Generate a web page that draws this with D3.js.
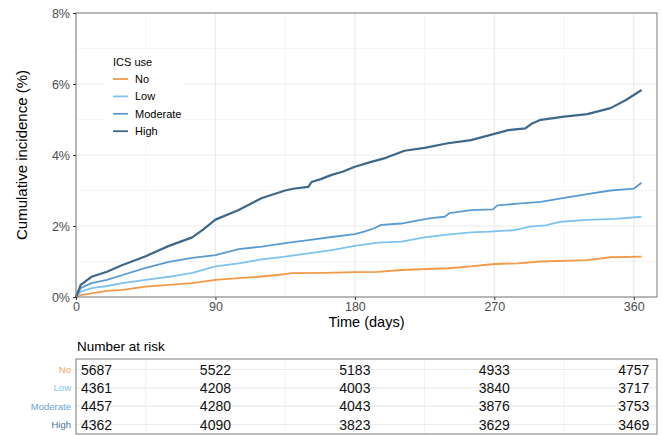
<!DOCTYPE html>
<html>
<head>
<meta charset="utf-8">
<script src="https://cdn.jsdelivr.net/npm/d3@7"></script>
<style>
  body { margin: 0; background: #fff; }
  svg { font-family: "Liberation Sans", Arial, Helvetica, sans-serif; }
</style>
</head>
<body>
<svg id="chart" width="662" height="435"></svg>
<script>
const groups = ["No", "Low", "Moderate", "High"]
const colors = ["#f39a48", "#7ec3ef", "#5b9bd0", "#3e6889"]
const rowColors = ["#f6a45c", "#86c5ee", "#68a3d2", "#4a7393"]

// readings: [day, cumulative incidence %]
const seriesNo = [[0,0],[3,0.05],[10,0.1],[20,0.17],[30,0.2],[45,0.29],[60,0.34],[75,0.39],[90,0.48],[105,0.53],[118,0.57],[130,0.62],[140,0.67],[160,0.68],[180,0.7],[195,0.71],[210,0.76],[240,0.81],[255,0.86],[270,0.93],[285,0.95],[300,1.0],[330,1.04],[345,1.12],[365,1.14]]
const seriesLow = [[0,0],[3,0.15],[10,0.25],[20,0.31],[30,0.39],[45,0.48],[60,0.57],[75,0.68],[90,0.86],[105,0.95],[120,1.06],[135,1.14],[150,1.23],[165,1.32],[180,1.44],[195,1.53],[210,1.56],[225,1.68],[238,1.75],[255,1.82],[267,1.84],[282,1.88],[293,1.98],[303,2.02],[313,2.12],[330,2.17],[348,2.2],[365,2.26]]
const seriesModerate = [[0,0],[3,0.25],[10,0.39],[20,0.48],[30,0.62],[45,0.82],[60,0.99],[75,1.1],[90,1.18],[105,1.35],[120,1.42],[135,1.52],[150,1.6],[165,1.69],[180,1.77],[186,1.84],[192,1.93],[197,2.03],[210,2.07],[220,2.15],[229,2.22],[238,2.26],[241,2.36],[255,2.45],[269,2.47],[272,2.58],[285,2.63],[300,2.68],[315,2.79],[330,2.9],[345,3.0],[360,3.05],[365,3.22]]
const seriesHigh = [[0,0],[3,0.34],[10,0.57],[20,0.71],[30,0.9],[45,1.15],[60,1.44],[75,1.68],[82,1.9],[90,2.18],[105,2.45],[120,2.79],[135,3.0],[140,3.05],[150,3.1],[152,3.24],[158,3.32],[165,3.44],[172,3.53],[180,3.67],[190,3.8],[200,3.92],[212,4.12],[225,4.2],[240,4.33],[255,4.42],[267,4.56],[279,4.7],[290,4.75],[294,4.88],[300,4.99],[315,5.08],[330,5.15],[345,5.32],[355,5.55],[360,5.69],[365,5.83]]
const allSeries = [seriesNo, seriesLow, seriesModerate, seriesHigh]

const xTicks = [0, 90, 180, 270, 360]
const xMinor = [45, 135, 225, 315]
const yTicks = [0, 2, 4, 6, 8]
const yMinor = [1, 3, 5, 7]

const riskTimes = [0, 90, 180, 270, 360]
const riskNo = [5687, 5522, 5183, 4933, 4757]
const riskLow = [4361, 4208, 4003, 3840, 3717]
const riskModerate = [4457, 4280, 4043, 3876, 3753]
const riskHigh = [4362, 4090, 3823, 3629, 3469]
const allRisk = [riskNo, riskLow, riskModerate, riskHigh]

const svg = d3.select("#chart")
const pLeft = 76, pRight = 657, pTop = 13, pBottom = 297

const x = d3.scaleLinear().domain([0, 375]).range([pLeft, pRight])
const y = d3.scaleLinear().domain([0, 8]).range([pBottom, pTop])

// grid
const grid = svg.append("g")
grid.selectAll(".vmin").data(xMinor).join("line")
  .attr("x1", d => x(d)).attr("x2", d => x(d)).attr("y1", pTop).attr("y2", pBottom)
  .attr("stroke", "#f3f3f3").attr("stroke-width", 0.8)
grid.selectAll(".hmin").data(yMinor).join("line")
  .attr("y1", d => y(d)).attr("y2", d => y(d)).attr("x1", pLeft).attr("x2", pRight)
  .attr("stroke", "#f3f3f3").attr("stroke-width", 0.8)
grid.selectAll(".vmaj").data(xTicks).join("line")
  .attr("x1", d => x(d)).attr("x2", d => x(d)).attr("y1", pTop).attr("y2", pBottom)
  .attr("stroke", "#ebebeb").attr("stroke-width", 1.2)
grid.selectAll(".hmaj").data(yTicks).join("line")
  .attr("y1", d => y(d)).attr("y2", d => y(d)).attr("x1", pLeft).attr("x2", pRight)
  .attr("stroke", "#ebebeb").attr("stroke-width", 1.2)

// curves
const line = d3.line().x(d => x(d[0])).y(d => y(d[1])).curve(d3.curveLinear)
svg.append("g").selectAll("path").data(allSeries).join("path")
  .attr("d", line)
  .attr("fill", "none")
  .attr("stroke", (d, i) => colors[i])
  .attr("stroke-width", (d, i) => i === 3 ? 2.2 : 1.8)
  .attr("stroke-linejoin", "round")

// panel border
svg.append("rect")
  .attr("x", pLeft).attr("y", pTop).attr("width", pRight - pLeft).attr("height", pBottom - pTop)
  .attr("fill", "none").attr("stroke", "#7a7a7a").attr("stroke-width", 1)

// axes
const xAxis = svg.append("g").attr("transform", `translate(0,${pBottom})`)
  .call(d3.axisBottom(x).tickValues(xTicks).tickSize(3).tickPadding(2))
const yAxis = svg.append("g").attr("transform", `translate(${pLeft},0)`)
  .call(d3.axisLeft(y).tickValues(yTicks).tickFormat(d => d + "%").tickSize(3).tickPadding(3))
;[xAxis, yAxis].forEach(a => {
  a.select(".domain").remove()
  a.selectAll(".tick line").attr("stroke", "#333")
  a.selectAll(".tick text").attr("fill", "#4d4d4d").style("font-size", "12.5px")
    .style("font-family", "\"Liberation Sans\", Arial, sans-serif")
})

svg.append("text").attr("x", (pLeft + pRight) / 2).attr("y", 327)
  .attr("text-anchor", "middle").style("font-size", "14.5px").text("Time (days)")
svg.append("text").attr("transform", `translate(27,${(pTop + pBottom) / 2}) rotate(-90)`)
  .attr("text-anchor", "middle").style("font-size", "15px").text("Cumulative incidence (%)")

// legend
const lg = svg.append("g")
lg.append("rect").attr("x", 104).attr("y", 49).attr("width", 80).attr("height", 93).attr("fill", "#fff")
lg.append("text").attr("x", 113).attr("y", 66).style("font-size", "11px").text("ICS use")
groups.forEach((g, i) => {
  const yy = 79 + i * 17.4
  lg.append("line").attr("x1", 113).attr("x2", 128).attr("y1", yy).attr("y2", yy)
    .attr("stroke", colors[i]).attr("stroke-width", 1.8)
  lg.append("text").attr("x", 135).attr("y", yy + 4).style("font-size", "11px").text(g)
})

// risk table
const tTop = 359, tBot = 434
const ty = d3.scalePoint().domain(groups).range([369.5, 424.5])
svg.append("text").attr("x", 77).attr("y", 351).style("font-size", "13.5px").text("Number at risk")
const tg = svg.append("g")
tg.selectAll(".tv").data(xMinor).join("line")
  .attr("x1", d => x(d)).attr("x2", d => x(d)).attr("y1", tTop).attr("y2", tBot)
  .attr("stroke", "#f0f0f0").attr("stroke-width", 1)
tg.selectAll(".th").data(groups).join("line")
  .attr("x1", pLeft).attr("x2", pRight).attr("y1", d => ty(d)).attr("y2", d => ty(d))
  .attr("stroke", "#ebebeb").attr("stroke-width", 1.2)
groups.forEach((g, i) => {
  tg.append("text").attr("x", 71).attr("y", ty(g) + 3.5).attr("text-anchor", "end")
    .attr("fill", rowColors[i]).style("font-size", "9.5px").text(g)
  tg.selectAll(".v" + i).data(allRisk[i]).join("text")
    .attr("class", "v" + i)
    .attr("x", (d, j) => j === 0 ? x(riskTimes[j]) + 5 : x(riskTimes[j]))
    .attr("y", ty(g) + 5)
    .attr("text-anchor", (d, j) => j === 0 ? "start" : "middle")
    .style("font-size", "14px").attr("fill", "#111").text(d => d)
})
tg.append("rect").attr("x", pLeft).attr("y", tTop).attr("width", pRight - pLeft).attr("height", tBot - tTop)
  .attr("fill", "none").attr("stroke", "#7a7a7a").attr("stroke-width", 1)
</script>
</body>
</html>
